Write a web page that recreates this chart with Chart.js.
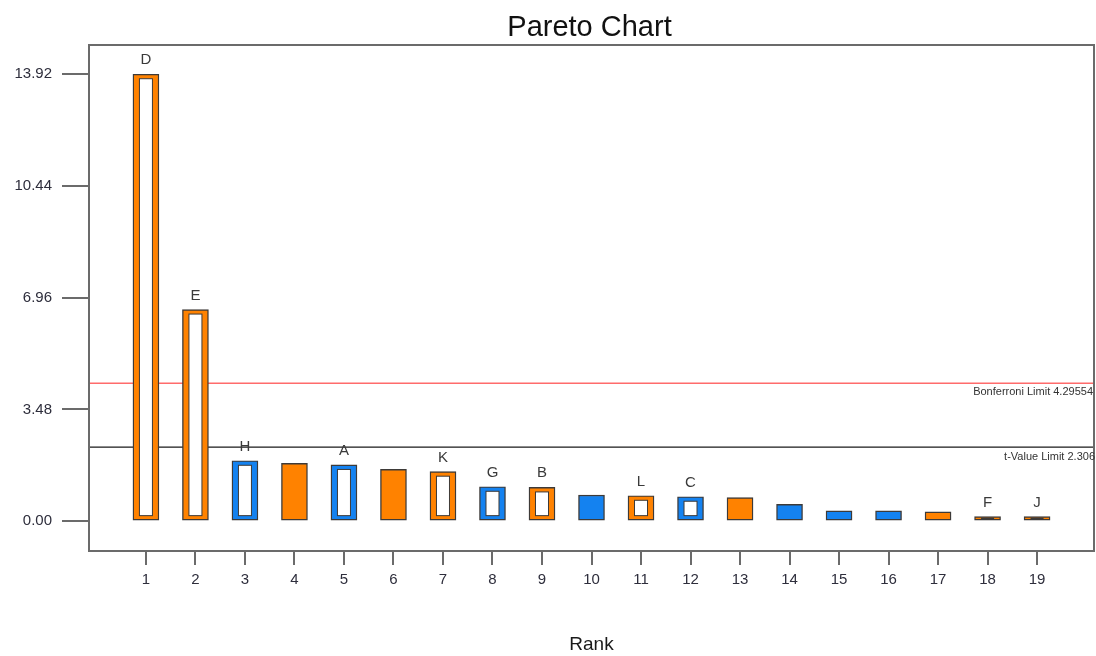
<!DOCTYPE html>
<html>
<head>
<meta charset="utf-8">
<title>Pareto Chart</title>
<script src="https://cdn.jsdelivr.net/npm/chart.js@4.4.1/dist/chart.umd.min.js"></script>
<style>
  html, body { margin: 0; padding: 0; background: #ffffff; }
  #wrap { width: 1096px; height: 656px; }
</style>
</head>
<body>
<div id="wrap"><canvas id="pareto" width="1096" height="656"></canvas></div>
<script>
// Ranked |t-values| of the effects
const ranks = [1, 2, 3, 4, 5, 6, 7, 8, 9, 10, 11, 12, 13, 14, 15, 16, 17, 18, 19];
const effectNames = ['D', 'E', 'H', '', 'A', '', 'K', 'G', 'B', '', 'L', 'C', '', '', '', '', '', 'F', 'J'];
const tValues = [13.92, 6.59, 1.88, 1.80, 1.75, 1.61, 1.54, 1.07, 1.05, 0.81, 0.79, 0.76, 0.73, 0.52, 0.32, 0.32, 0.29, 0.14, 0.14];
// '+' positive effect (orange), '-' negative effect (blue)
const effectSigns = ['+', '+', '-', '+', '-', '+', '+', '-', '+', '-', '+', '-', '+', '-', '-', '-', '+', '+', '+'];
// model terms are drawn as open bars
const modelTerms = [true, true, true, false, true, false, true, true, true, false, true, true, false, false, false, false, false, true, true];
const yTickValues = [0, 3.48, 6.96, 10.44, 13.92];
const bonferroniLimit = 4.29554;
const tValueLimit = 2.306;

const ORANGE = '#ff8200';
const BLUE = '#1482f0';
const EDGE = '#3d3a38';
const FONT = "'Liberation Sans', Arial, sans-serif";

const barColors = effectSigns.map(s => (s === '+' ? ORANGE : BLUE));
const xMin = -0.15, xMax = 20.15;

// open bars: white core inside the coloured frame, plus effect letters
const termPlugin = {
  id: 'termPlugin',
  afterDatasetsDraw(chart) {
    const ctx = chart.ctx;
    const meta = chart.getDatasetMeta(0);
    ctx.save();
    meta.data.forEach((bar, i) => {
      const p = bar.getProps(['x', 'y', 'base', 'width'], true);
      const left = p.x - p.width / 2, right = p.x + p.width / 2;
      const top = Math.min(p.y, p.base), bottom = Math.max(p.y, p.base);
      if (modelTerms[i]) {
        const il = left + 6.5, ir = right - 6.5;
        const it = top + 4.5, ib = bottom - 4.5;
        if (ib - it > 1) {
          ctx.fillStyle = '#ffffff';
          ctx.fillRect(il, it, ir - il, ib - it);
          ctx.strokeStyle = EDGE;
          ctx.lineWidth = 1;
          ctx.strokeRect(il, it, ir - il, ib - it);
        } else {
          ctx.fillStyle = EDGE;
          ctx.fillRect(il, top + 1, ir - il, bottom - top - 2);
        }
      }
      if (effectNames[i]) {
        ctx.fillStyle = '#3a3a3a';
        ctx.font = '15px ' + FONT;
        ctx.textAlign = 'center';
        ctx.textBaseline = 'alphabetic';
        ctx.fillText(effectNames[i], p.x, top - 10);
      }
    });
    ctx.restore();
  },
  afterDraw(chart) {
    const {ctx, chartArea: a, scales} = chart;
    ctx.save();
    // plot frame
    ctx.strokeStyle = '#6b6b6b';
    ctx.lineWidth = 2;
    ctx.strokeRect(a.left, a.top, a.right - a.left, a.bottom - a.top);
    // limit captions
    ctx.fillStyle = '#333333';
    ctx.font = '11px ' + FONT;
    ctx.textAlign = 'right';
    ctx.textBaseline = 'middle';
    ctx.fillText('Bonferroni Limit ' + bonferroniLimit, a.right - 1, scales.y.getPixelForValue(bonferroniLimit) + 9);
    ctx.fillText('t-Value Limit ' + tValueLimit, a.right + 1, scales.y.getPixelForValue(tValueLimit) + 10);
    // chart title over the plot
    ctx.fillStyle = '#111111';
    ctx.font = '29px ' + FONT;
    ctx.textAlign = 'center';
    ctx.fillText('Pareto Chart', (a.left + a.right) / 2 - 2, 28);
    ctx.restore();
  }
};

new Chart(document.getElementById('pareto'), {
  data: {
    datasets: [
      {
        type: 'bar',
        label: 't-Value of |Effect|',
        data: ranks.map((r, i) => ({x: r, y: tValues[i]})),
        backgroundColor: barColors,
        borderColor: EDGE,
        borderWidth: 1.4,
        borderSkipped: false,
        barThickness: 26,
        order: 0
      },
      {
        type: 'line',
        label: 'Bonferroni Limit',
        data: [{x: xMin, y: bonferroniLimit}, {x: xMax, y: bonferroniLimit}],
        borderColor: '#ff6b6b',
        borderWidth: 1.3,
        pointRadius: 0,
        order: 1
      },
      {
        type: 'line',
        label: 't-Value Limit',
        data: [{x: xMin, y: tValueLimit}, {x: xMax, y: tValueLimit}],
        borderColor: '#1a1a1a',
        borderWidth: 1.3,
        pointRadius: 0,
        order: 1
      }
    ]
  },
  options: {
    responsive: false,
    devicePixelRatio: 1,
    animation: false,
    layout: {padding: {top: 45, right: 2, left: 0, bottom: 0}},
    plugins: {
      legend: {display: false},
      title: {display: false},
      tooltip: {enabled: false}
    },
    scales: {
      x: {
        type: 'linear',
        min: xMin,
        max: xMax,
        offset: false,
        afterBuildTicks: s => { s.ticks = ranks.map(v => ({value: v})); },
        afterFit: s => { s.height = 105; },
        border: {display: false},
        grid: {offset: false, drawOnChartArea: false, tickLength: 14, color: '#6b6b6b', lineWidth: 2},
        ticks: {
          padding: 6,
          color: '#2e2e3c',
          font: {family: FONT, size: 15},
          maxRotation: 0,
          autoSkip: false,
          callback: v => String(v)
        },
        title: {
          display: true,
          text: 'Rank',
          color: '#1a1a1a',
          font: {family: FONT, size: 19},
          padding: {top: 0, bottom: 0}
        }
      },
      y: {
        type: 'linear',
        min: -0.93,
        max: 14.83,
        afterBuildTicks: s => { s.ticks = yTickValues.map(v => ({value: v})); },
        afterFit: s => { s.width = 89; },
        border: {display: false},
        grid: {drawOnChartArea: false, tickLength: 27, color: '#6b6b6b', lineWidth: 2},
        ticks: {
          padding: 10,
          color: '#2e2e3c',
          font: {family: FONT, size: 15},
          autoSkip: false,
          callback: v => Number(v).toFixed(2)
        }
      }
    }
  },
  plugins: [termPlugin]
});
</script>
</body>
</html>
